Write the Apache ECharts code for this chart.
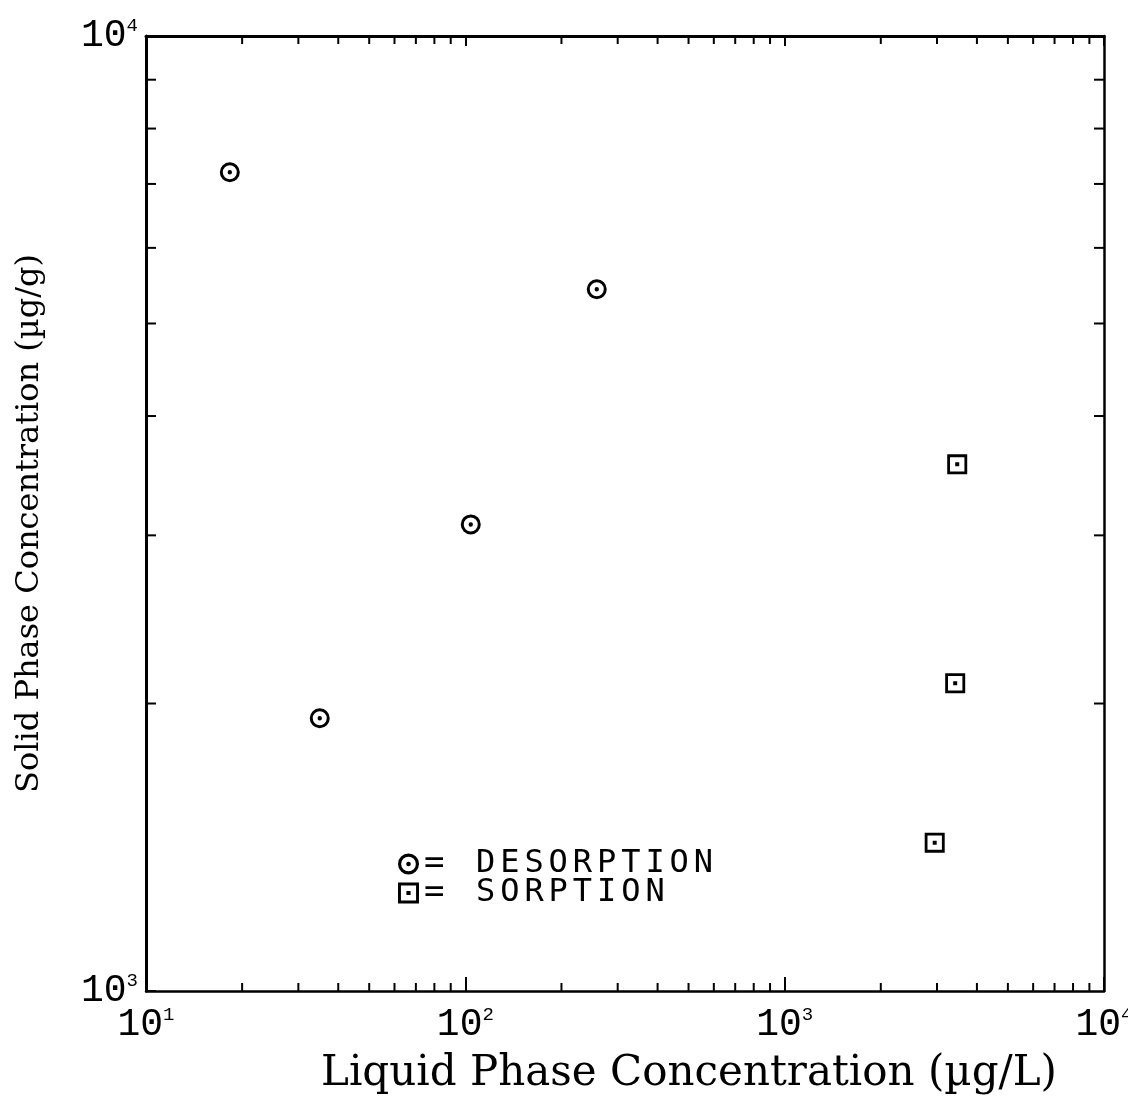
<!DOCTYPE html>
<html>
<head>
<meta charset="utf-8">
<script src="https://cdn.jsdelivr.net/npm/echarts@6/dist/echarts.min.js"></script>
<style>
html,body{margin:0;padding:0;background:#fff;}
#chart{width:1128px;height:1098px;}
</style>
</head>
<body>
<div id="chart"></div>
<script>
// ---- data ----
const desorptionX = [18.3, 35, 104, 258];
const desorptionY = [7200, 1930, 3080, 5430];
const sorptionX = [3470, 3420, 2950];
const sorptionY = [3560, 2100, 1430];
const xMinorTicks = [20,30,40,50,60,70,80,90,200,300,400,500,600,700,800,900,2000,3000,4000,5000,6000,7000,8000,9000];
const yMinorTicks = [2000,3000,4000,5000,6000,7000,8000,9000];
const xTitle = 'Liquid Phase Concentration (µg/L)';
const yTitle = 'Solid Phase Concentration (µg/g)';
const seriesNames = ['DESORPTION', 'SORPTION'];

const circleSym = 'path://M0,-10 A10,10 0 1,1 0,10 A10,10 0 1,1 0,-10 Z M0,-7 A7,7 0 1,0 0,7 A7,7 0 1,0 0,-7 Z M0,-2.2 A2.2,2.2 0 1,1 0,2.2 A2.2,2.2 0 1,1 0,-2.2 Z';
const squareSym = 'path://M-10,-10 H10 V10 H-10 Z M-7.2,-7.2 V7.2 H7.2 V-7.2 Z M-2,-2 H2 V2 H-2 Z';

const tickData = [];
xMinorTicks.forEach(v => tickData.push([v, 1000, 0]));
yMinorTicks.forEach(v => tickData.push([10, v, 1]));

function expLabel(v) {
  const e = Math.round(Math.log10(v));
  return '{b|10}{s|' + e + '}';
}
const rich = {
  b: {fontFamily: 'Liberation Mono', fontSize: 38, color: '#000', lineHeight: 40},
  s: {fontFamily: 'Liberation Mono', fontSize: 19, color: '#000', verticalAlign: 'top', lineHeight: 40, padding: [0, 0, 18, 0]}
};

function legendText(n) {
  let s = '{e|=}';
  for (const ch of n) s += '{c|' + ch + '}';
  return s;
}
const legendRich = {
  e: {fontFamily: 'DejaVu Sans Mono', fontSize: 34, color: '#000', width: 52, lineHeight: 24},
  c: {fontFamily: 'DejaVu Sans Mono', fontSize: 32, color: '#000', width: 24.2, lineHeight: 24}
};

const chart = echarts.init(document.getElementById('chart'));
chart.setOption({
  backgroundColor: '#fff',
  animation: false,
  grid: {left: 146, right: 24, top: 36, bottom: 107, containLabel: false, outerBoundsMode: 'none'},
  legend: {
    orient: 'vertical', left: 398, top: 847, itemGap: -5, itemWidth: 21, itemHeight: 21,
    padding: 0,
    data: seriesNames,
    formatter: legendText,
    textStyle: {color: '#000', lineHeight: 24, rich: legendRich}
  },
  xAxis: [{
    type: 'log', min: 10, max: 10000, logBase: 10, position: 'bottom',
    name: xTitle, nameLocation: 'middle', nameGap: 62,
    nameTextStyle: {fontFamily: 'DejaVu Serif', fontSize: 42, color: '#000', padding: [0,0,0,128]},
    axisLine: {lineStyle: {color: '#000', width: 2.5}},
    axisTick: {inside: true, length: 14, lineStyle: {color: '#000', width: 2}},
    axisLabel: {formatter: expLabel, rich: rich, margin: 14},
    splitLine: {show: false}
  }, {
    type: 'log', min: 10, max: 10000, logBase: 10, position: 'top',
    axisLine: {lineStyle: {color: '#000', width: 3}},
    axisTick: {inside: true, length: 10, lineStyle: {color: '#000', width: 2}},
    axisLabel: {show: false}, splitLine: {show: false}
  }],
  yAxis: [{
    type: 'log', min: 1000, max: 10000, logBase: 10, position: 'left',
    name: yTitle, nameLocation: 'middle', nameGap: 100, nameRotate: 90,
    nameTextStyle: {fontFamily: 'DejaVu Serif', fontSize: 32, color: '#000', padding: [0,20,0,0]},
    axisLine: {lineStyle: {color: '#000', width: 3}},
    axisTick: {inside: true, length: 10, lineStyle: {color: '#000', width: 2}},
    axisLabel: {formatter: expLabel, rich: rich, margin: 8},
    splitLine: {show: false}
  }, {
    type: 'log', min: 1000, max: 10000, logBase: 10, position: 'right',
    axisLine: {lineStyle: {color: '#000', width: 2.5}},
    axisTick: {show: false},
    axisLabel: {show: false}, splitLine: {show: false}
  }],
  series: [{
    name: seriesNames[0], type: 'scatter', symbol: circleSym, symbolSize: 20,
    itemStyle: {color: '#000', opacity: 1},
    data: desorptionX.map((x, i) => [x, desorptionY[i]])
  }, {
    name: seriesNames[1], type: 'scatter', symbol: squareSym, symbolSize: 20,
    itemStyle: {color: '#000', opacity: 1},
    data: sorptionX.map((x, i) => [x, sorptionY[i]])
  }, {
    name: 'ticks', type: 'custom', silent: true, clip: false,
    data: tickData,
    renderItem: function (params, api) {
      const cs = params.coordSys;
      const kind = api.value(2);
      const style = {stroke: '#000', lineWidth: 2};
      if (kind === 0) {
        const px = api.coord([api.value(0), 1000])[0];
        return {type: 'group', children: [
          {type: 'line', shape: {x1: px, y1: cs.y + cs.height, x2: px, y2: cs.y + cs.height - 8}, style: style},
          {type: 'line', shape: {x1: px, y1: cs.y, x2: px, y2: cs.y + 8}, style: style}
        ]};
      } else {
        const py = api.coord([10, api.value(1)])[1];
        return {type: 'group', children: [
          {type: 'line', shape: {x1: cs.x, y1: py, x2: cs.x + 10, y2: py}, style: style},
          {type: 'line', shape: {x1: cs.x + cs.width, y1: py, x2: cs.x + cs.width - 10, y2: py}, style: style}
        ]};
      }
    }
  }]
});
</script>
</body>
</html>
